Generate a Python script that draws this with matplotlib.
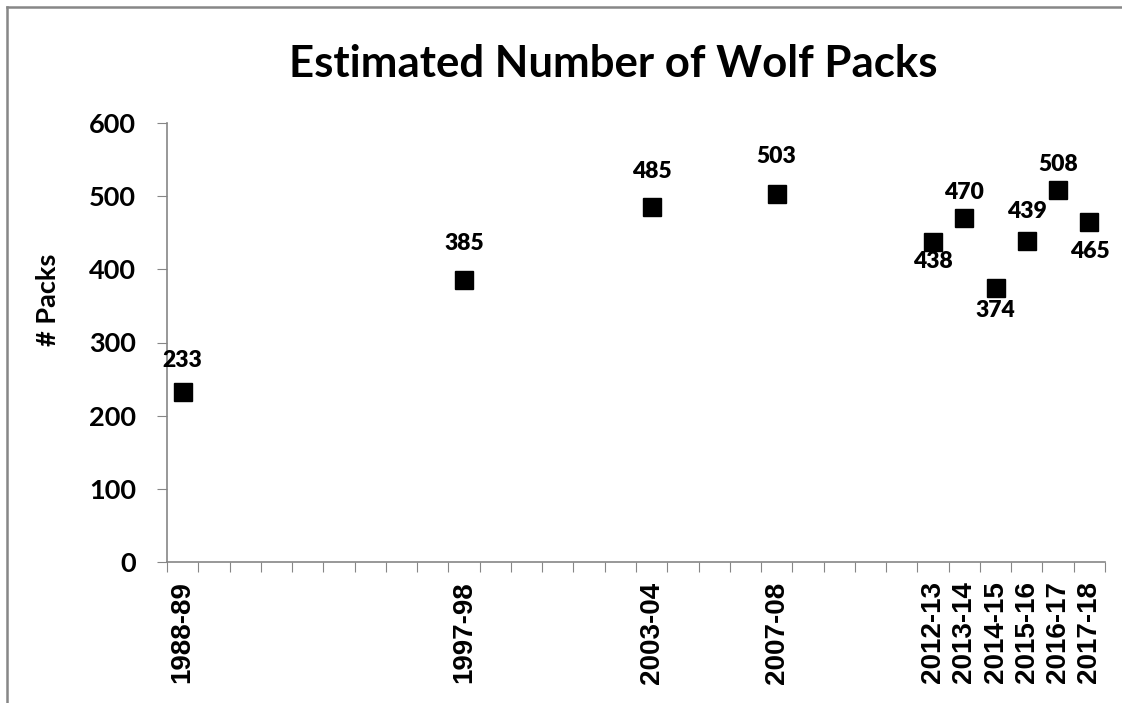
import matplotlib
matplotlib.use("Agg")
from matplotlib import pyplot as plt
from matplotlib.lines import Line2D

# seasons with an estimate, and the estimated number of packs
seasons = ["1988-89", "1997-98", "2003-04", "2007-08", "2012-13",
           "2013-14", "2014-15", "2015-16", "2016-17", "2017-18"]
packs = [233, 385, 485, 503, 438, 470, 374, 439, 508, 465]

FIRST_YEAR = 1988
LAST_YEAR = 2017

# label offset from marker centre, in pixels (positive = above)
label_offset = [31, 37, 36, 37, -20, 26, -22, 29, 26, -30]

GRAY = "#868686"
LABEL_FONT = "Lato"
AXIS_FONT = "Liberation Sans"

if __name__ == '__main__':
    fig = plt.figure(figsize=(11.22, 7.03), dpi=100)
    ax = fig.add_axes([167 / 1122, 1 - 562 / 703, (1105 - 167) / 1122, (562 - 123) / 703])

    # one category per season, data only for some of them
    x = [int(s[:4]) - FIRST_YEAR for s in seasons]
    n_cat = LAST_YEAR - FIRST_YEAR + 1

    ax.plot(x, packs, linestyle="none", marker="s", markersize=13.6,
            color="black", clip_on=False)

    for xi, yi, off in zip(x, packs, label_offset):
        ax.annotate(str(yi), (xi, yi), xytext=(0, off * 0.72),
                    textcoords="offset points", ha="center", va="center",
                    fontsize=16.5, fontweight="heavy", family=LABEL_FONT)

    ax.set_xlim(-0.5, n_cat - 0.5)
    ax.set_ylim(0, 600)

    # tick marks between categories, labels at the centres
    ax.set_xticks([i - 0.5 for i in range(n_cat + 1)])
    ax.set_xticklabels([])
    ax.set_xticks(x, minor=True)
    ax.set_xticklabels(seasons, minor=True, rotation=90,
                       fontsize=20, fontweight="bold", family=AXIS_FONT)
    ax.tick_params(axis="x", which="major", length=7.2, color=GRAY, direction="out")
    ax.tick_params(axis="x", which="minor", length=0, pad=14)

    ax.set_yticks(range(0, 601, 100))
    ax.set_yticklabels([str(v) for v in range(0, 601, 100)],
                       fontsize=19.5, fontweight="bold", family=LABEL_FONT)
    ax.tick_params(axis="y", length=7.2, color=GRAY, pad=15)

    for side in ["top", "right"]:
        ax.spines[side].set_visible(False)
    for side in ["left", "bottom"]:
        ax.spines[side].set_color(GRAY)
        ax.spines[side].set_linewidth(1.2)

    fig.text(613 / 1122, 1 - 77 / 703, "Estimated Number of Wolf Packs",
             ha="center", va="baseline", fontsize=31.5, fontweight="bold",
             family=LABEL_FONT)
    fig.text(48 / 1122, 1 - 300 / 703, "# Packs", rotation=90,
             ha="center", va="center", fontsize=19.5, fontweight="bold",
             family=LABEL_FONT)

    # chart border (only top and left visible in the crop)
    bx, by = 7 / 1122, 1 - 7 / 703
    fig.add_artist(Line2D([bx, 1], [by, by], color="#878787", lw=1.8))
    fig.add_artist(Line2D([bx, bx], [0, by], color="#878787", lw=1.8))

    fig.savefig("out.png", dpi=100)
